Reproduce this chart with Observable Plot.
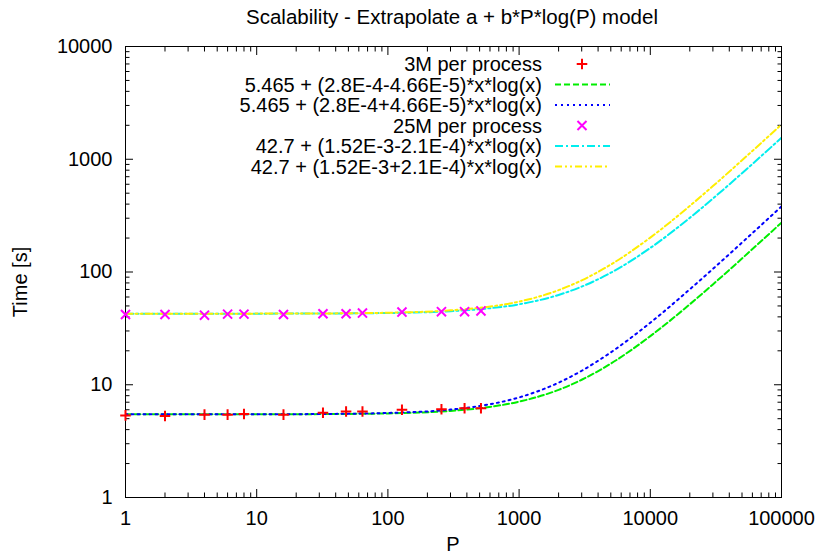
<!DOCTYPE html>
<html><head><meta charset="utf-8">
<script src="https://cdn.jsdelivr.net/npm/d3@7"></script>
<script src="https://cdn.jsdelivr.net/npm/@observablehq/plot@0.6"></script>
<style>body{margin:0;background:#fff}</style>
</head><body><div id="chart"></div>
<script>
// ---- data ----
const procs = [1, 2, 4, 6, 8, 16, 32, 48, 64, 128, 256, 384, 512];
const time3M = [5.35, 5.28, 5.43, 5.43, 5.5, 5.43, 5.65, 5.8, 5.8, 6.0, 6.07, 6.19, 6.19];
const time25M = [42.0, 42.0, 41.4, 42.3, 42.3, 42.0, 42.6, 42.6, 43.2, 44.1, 44.5, 44.5, 45.2];
const fitP = [1, 10, 30, 100, 300, 500, 1000, 2000, 3000, 5000, 10000, 20000, 30000, 50000, 100000];
const fit3MLow = [5.465, 5.47, 5.49, 5.57, 5.86, 6.19, 7.08, 9.01, 11.07, 15.4, 27.0, 51.7, 77.6, 131.7, 274];
const fit3MHigh = [5.465, 5.47, 5.50, 5.62, 6.02, 6.48, 7.72, 10.43, 13.31, 19.37, 35.5, 70.2, 106.5, 182.2, 381.5];
const fit25MLow = [42.7, 42.73, 42.83, 43.3, 44.9, 46.8, 51.7, 62.6, 74.2, 98.5, 163.4, 302.2, 447.8, 751.4, 1551];
const fit25MHigh = [42.7, 42.74, 42.88, 43.5, 45.7, 48.1, 54.6, 69.0, 84.3, 116.4, 202, 385.4, 577.7, 978.6, 2034];
const seriesLabels = [
  "3M per process",
  "5.465 + (2.8E-4-4.66E-5)*x*log(x)",
  "5.465 + (2.8E-4+4.66E-5)*x*log(x)",
  "25M per process",
  "42.7 + (1.52E-3-2.1E-4)*x*log(x)",
  "42.7 + (1.52E-3+2.1E-4)*x*log(x)"
];
const xTicks = [1, 10, 100, 1000, 10000, 100000];
const yTicks = [1, 10, 100, 1000, 10000];
const titleText = "Scalability - Extrapolate a + b*P*log(P) model";
const xLabel = "P";
const yLabel = "Time [s]";

// ---- styles ----
const FONT = "Liberation Sans, Arial, sans-serif";
const FS = 20;
const FS_TITLE = 20.5;
const R_PLUS = 3.5;
const R_TIMES = 4.2;
const sty = [
  {type: "dot", color: "#ff0000", symbol: "plus"},
  {type: "line", color: "#00ee00", dash: "6,3"},
  {type: "line", color: "#0000ff", dash: "2,4"},
  {type: "dot", color: "#ff00ff", symbol: "times"},
  {type: "line", color: "#00eeee", dash: "8,3,2,3"},
  {type: "line", color: "#ffee00", dash: "7,3,2,3,2,3"}
];

const pts3M = procs.map((p, i) => ({p, t: time3M[i]}));
const pts25M = procs.map((p, i) => ({p, t: time25M[i]}));
const fits = [fit3MLow, fit3MHigh, fit25MLow, fit25MHigh].map(arr => fitP.map((p, i) => ({p, t: arr[i]})));

function minors(lo, hi) {
  const out = [];
  for (let d = lo; d < hi; d *= 10) for (let k = 2; k <= 9; k++) out.push(d * k);
  return out;
}
const xMinor = minors(1, 100000);
const yMinor = minors(1, 10000);

const chart = Plot.plot({
  width: 819, height: 554,
  marginTop: 46, marginLeft: 125, marginRight: 38, marginBottom: 57,
  style: {fontFamily: FONT, fontSize: FS + "px", background: "#fff", color: "#000"},
  x: {type: "log", domain: [1, 100000]},
  y: {type: "log", domain: [1, 10000]},
  marks: [
    Plot.frame({stroke: "#000", strokeWidth: 1}),
    // labels
    Plot.axisX({ticks: xTicks, tickSize: 0, tickPadding: 13, tickFormat: d => String(d), label: null, fontSize: FS}),
    Plot.axisY({ticks: yTicks, tickSize: 0, tickPadding: 13, tickFormat: d => String(d), label: null, fontSize: FS}),
    // inward ticks on all sides
    Plot.axisX({anchor: "bottom", ticks: xTicks, tickSize: -8, fill: "none", label: null, strokeWidth: 1}),
    Plot.axisX({anchor: "top", ticks: xTicks, tickSize: -8, fill: "none", label: null, strokeWidth: 1}),
    Plot.axisX({anchor: "bottom", ticks: xMinor, tickSize: -4.5, fill: "none", label: null, strokeWidth: 1}),
    Plot.axisX({anchor: "top", ticks: xMinor, tickSize: -4.5, fill: "none", label: null, strokeWidth: 1}),
    Plot.axisY({anchor: "left", ticks: yTicks, tickSize: -8, fill: "none", label: null, strokeWidth: 1}),
    Plot.axisY({anchor: "right", ticks: yTicks, tickSize: -8, fill: "none", label: null, strokeWidth: 1}),
    Plot.axisY({anchor: "left", ticks: yMinor, tickSize: -4.5, fill: "none", label: null, strokeWidth: 1}),
    Plot.axisY({anchor: "right", ticks: yMinor, tickSize: -4.5, fill: "none", label: null, strokeWidth: 1}),
    // fit lines
    Plot.line(fits[0], {x: "p", y: "t", stroke: sty[1].color, strokeWidth: 2, strokeDasharray: sty[1].dash, curve: "monotone-x", clip: true}),
    Plot.line(fits[1], {x: "p", y: "t", stroke: sty[2].color, strokeWidth: 2, strokeDasharray: sty[2].dash, curve: "monotone-x", clip: true}),
    Plot.line(fits[2], {x: "p", y: "t", stroke: sty[4].color, strokeWidth: 2, strokeDasharray: sty[4].dash, curve: "monotone-x", clip: true}),
    Plot.line(fits[3], {x: "p", y: "t", stroke: sty[5].color, strokeWidth: 2, strokeDasharray: sty[5].dash, curve: "monotone-x", clip: true}),
    // points
    Plot.dot(pts3M, {x: "p", y: "t", symbol: "plus", r: R_PLUS, stroke: sty[0].color, strokeWidth: 2}),
    Plot.dot(pts25M, {x: "p", y: "t", symbol: "times", r: R_TIMES, stroke: sty[3].color, strokeWidth: 2})
  ]
});

const svg = d3.select(chart);
svg.attr("font-family", FONT);
// title
svg.append("text").attr("x", 452).attr("y", 24).attr("text-anchor", "middle")
  .attr("font-size", FS_TITLE).attr("fill", "#000").text(titleText);
// axis titles
svg.append("text").attr("x", 453).attr("y", 551).attr("text-anchor", "middle")
  .attr("font-size", FS).attr("fill", "#000").text(xLabel);
svg.append("text").attr("transform", "translate(27,282) rotate(-90)").attr("text-anchor", "middle")
  .attr("font-size", FS).attr("fill", "#000").text(yLabel);
// legend
const rowY = [64, 84.5, 105, 125.5, 146, 166.5];
const lg = svg.append("g");
seriesLabels.forEach((lab, i) => {
  const y = rowY[i];
  lg.append("text").attr("x", 542).attr("y", y).attr("dy", "0.35em").attr("text-anchor", "end")
    .attr("font-size", FS).attr("fill", "#000").text(lab);
  const s = sty[i];
  if (s.type === "line") {
    lg.append("line").attr("x1", 555).attr("x2", 610).attr("y1", y).attr("y2", y)
      .attr("stroke", s.color).attr("stroke-width", 2).attr("stroke-dasharray", s.dash);
  } else {
    const plus = s.symbol === "plus";
    const r = plus ? R_PLUS : R_TIMES;
    lg.append("path").attr("transform", `translate(582,${y})`)
      .attr("d", d3.symbol(plus ? d3.symbolPlus : d3.symbolTimes, r * r * Math.PI)())
      .attr("fill", "none").attr("stroke", s.color).attr("stroke-width", 2);
  }
});

document.getElementById("chart").appendChild(chart);
</script>
</body></html>
